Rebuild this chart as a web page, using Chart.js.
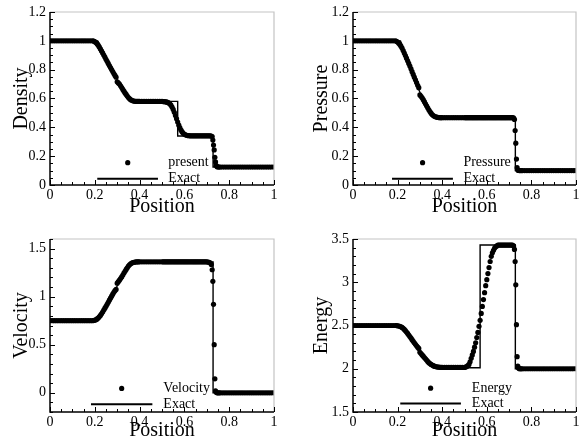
<!DOCTYPE html>
<html>
<head>
<meta charset="utf-8">
<script src="https://cdn.jsdelivr.net/npm/chart.js@4.4.1/dist/chart.umd.min.js"></script>
<style>
  html, body { margin: 0; padding: 0; background: #fff; }
  body { width: 583px; height: 441px; position: relative; overflow: hidden; }
  canvas { position: absolute; }
</style>
</head>
<body>
<canvas id="cDensity" width="291" height="220" style="left:0;top:0"></canvas>
<canvas id="cPressure" width="292" height="220" style="left:291px;top:0"></canvas>
<canvas id="cVelocity" width="291" height="221" style="left:0;top:220px"></canvas>
<canvas id="cEnergy" width="292" height="221" style="left:291px;top:220px"></canvas>
<script>
// sample positions of the "present" solution
const positions = [
  0,0.01,0.02,0.03,0.04,0.05,0.06,0.07,0.08,0.09,
  0.1,0.11,0.12,0.13,0.14,0.15,0.16,0.17,0.18,0.19,
  0.195,0.2,0.205,0.21,0.215,0.22,0.225,0.23,0.235,0.24,
  0.245,0.25,0.255,0.26,0.265,0.27,0.275,0.28,0.285,0.29,
  0.295,0.3,0.305,0.31,0.315,0.32,0.325,0.33,0.335,0.34,
  0.345,0.35,0.355,0.36,0.365,0.37,0.375,0.38,0.385,0.39,
  0.395,0.4,
  0.41,0.42,0.43,0.44,0.45,0.46,0.47,0.48,0.49,0.5,
  0.505,0.51,0.515,0.52,0.525,0.53,0.535,0.54,0.545,0.55,
  0.555,0.56,0.565,0.57,0.575,0.58,0.585,0.59,0.595,0.6,
  0.605,0.61,0.615,0.62,0.625,0.63,0.635,0.64,0.645,0.65,
  0.655,0.66,0.665,0.67,0.675,0.68,0.685,0.69,0.695,0.7,
  0.705,0.71,0.715,0.72,
  0.724,0.727,0.73,0.733,0.736,0.739,0.742,0.746,
  0.75,0.755,0.76,
  0.77,0.78,0.79,0.8,0.81,0.82,0.83,0.84,0.85,0.86,
  0.87,0.88,0.89,0.9,0.91,0.92,0.93,0.94,0.95,0.96,
  0.97,0.98,0.99,1
];

const presentDensity = [
  1,1,1,1,1,1,1,1,1,1,
  1,1,1,1,1,1,1,1,1,1,
  0.998,0.994,0.988,0.98,0.97,0.958,0.944,0.93,0.916,0.901,
  0.887,0.872,0.858,0.843,0.829,0.815,0.801,0.787,0.773,0.76,
  0.748,0.716,0.708,0.7,0.688,0.676,0.663,0.651,0.639,0.628,
  0.617,0.607,0.599,0.592,0.587,0.584,0.582,0.581,0.58,0.58,
  0.58,0.58,
  0.58,0.58,0.58,0.58,0.58,0.58,0.58,0.58,0.58,0.58,
  0.579,0.578,0.577,0.576,0.573,0.569,0.563,0.554,0.541,0.524,
  0.504,0.482,0.459,0.437,0.415,0.396,0.38,0.368,0.359,0.352,
  0.348,0.345,0.343,0.342,0.341,0.341,0.341,0.341,0.341,0.341,
  0.341,0.341,0.341,0.341,0.341,0.341,0.341,0.341,0.341,0.341,
  0.341,0.341,0.341,0.34,
  0.336,0.312,0.277,0.243,0.192,0.16,0.135,0.127,
  0.125,0.125,0.125,
  0.125,0.125,0.125,0.125,0.125,0.125,0.125,0.125,0.125,0.125,
  0.125,0.125,0.125,0.125,0.125,0.125,0.125,0.125,0.125,0.125,
  0.125,0.125,0.125,0.125
];

const presentPressure = [
  1,1,1,1,1,1,1,1,1,1,
  1,1,1,1,1,1,1,1,1,1,
  0.997,0.992,0.984,0.975,0.963,0.95,0.933,0.915,0.898,0.88,
  0.862,0.843,0.825,0.806,0.786,0.767,0.748,0.73,0.711,0.692,
  0.675,0.625,0.615,0.605,0.592,0.578,0.563,0.549,0.535,0.522,
  0.51,0.498,0.489,0.482,0.477,0.473,0.471,0.469,0.468,0.467,
  0.467,0.467,
  0.467,0.467,0.467,0.467,0.467,0.467,0.467,0.467,0.467,0.467,
  0.467,0.467,0.467,0.467,0.467,0.467,0.467,0.467,0.467,0.467,
  0.467,0.467,0.467,0.467,0.467,0.467,0.467,0.467,0.467,0.467,
  0.467,0.467,0.467,0.467,0.467,0.467,0.467,0.467,0.467,0.467,
  0.467,0.467,0.467,0.467,0.467,0.467,0.467,0.467,0.467,0.467,
  0.467,0.467,0.467,0.466,
  0.455,0.378,0.29,0.18,0.12,0.104,0.101,0.1,
  0.1,0.1,0.1,
  0.1,0.1,0.1,0.1,0.1,0.1,0.1,0.1,0.1,0.1,
  0.1,0.1,0.1,0.1,0.1,0.1,0.1,0.1,0.1,0.1,
  0.1,0.1,0.1,0.1
];

const presentVelocity = [
  0.75,0.75,0.75,0.75,0.75,0.75,0.75,0.75,0.75,0.75,
  0.75,0.75,0.75,0.75,0.75,0.75,0.75,0.75,0.75,0.75,
  0.752,0.755,0.76,0.768,0.778,0.79,0.805,0.822,0.84,0.86,
  0.88,0.9,0.921,0.942,0.963,0.984,1.005,1.026,1.045,1.062,
  1.075,1.14,1.156,1.172,1.188,1.205,1.225,1.245,1.264,1.283,
  1.301,1.318,1.331,1.342,1.35,1.355,1.358,1.36,1.361,1.362,
  1.362,1.362,
  1.362,1.362,1.362,1.362,1.362,1.362,1.362,1.362,1.362,1.362,
  1.362,1.362,1.362,1.362,1.362,1.362,1.362,1.362,1.362,1.362,
  1.362,1.362,1.362,1.362,1.362,1.362,1.362,1.362,1.362,1.362,
  1.362,1.362,1.362,1.362,1.362,1.362,1.362,1.362,1.362,1.362,
  1.362,1.362,1.362,1.362,1.362,1.362,1.362,1.362,1.362,1.362,
  1.36,1.358,1.352,1.335,
  1.28,1.16,0.92,0.5,0.145,0.02,0.005,0,
  0,0,0,
  0,0,0,0,0,0,0,0,0,0,
  0,0,0,0,0,0,0,0,0,0,
  0,0,0,0
];

const presentEnergy = [
  2.5,2.5,2.5,2.5,2.5,2.5,2.5,2.5,2.5,2.5,
  2.5,2.5,2.5,2.5,2.5,2.5,2.5,2.5,2.5,2.5,
  2.499,2.497,2.494,2.49,2.485,2.478,2.467,2.455,2.44,2.425,
  2.408,2.39,2.372,2.355,2.336,2.318,2.3,2.283,2.266,2.25,
  2.235,2.19,2.175,2.16,2.145,2.13,2.115,2.1,2.085,2.07,
  2.06,2.05,2.042,2.035,2.03,2.025,2.022,2.02,2.018,2.016,
  2.015,2.015,
  2.015,2.015,2.015,2.015,2.015,2.015,2.015,2.015,2.015,2.015,
  2.02,2.025,2.035,2.05,2.08,2.12,2.16,2.2,2.25,2.3,
  2.36,2.42,2.49,2.56,2.64,2.72,2.8,2.88,2.96,3.03,
  3.1,3.17,3.24,3.3,3.34,3.37,3.395,3.41,3.42,3.43,
  3.43,3.43,3.43,3.43,3.43,3.43,3.43,3.43,3.43,3.43,
  3.43,3.43,3.43,3.42,
  3.38,3.24,2.97,2.51,2.14,2.03,2.01,2,
  2,2,2,
  2,2,2,2,2,2,2,2,2,2,
  2,2,2,2,2,2,2,2,2,2,
  2,2,2,2
];

// exact solution breakpoints
const exactDensityX = [0,0.213,0.22,0.24,0.26,0.28,0.3,0.32,0.34,0.36,0.57,0.57,0.728,0.728,1];
const exactDensityY = [1,1,0.977,0.91,0.846,0.787,0.73,0.677,0.627,0.58,0.58,0.34,0.34,0.125,0.125];
const exactPressureX = [0,0.213,0.22,0.24,0.26,0.28,0.3,0.32,0.34,0.36,0.728,0.728,1];
const exactPressureY = [1,1,0.968,0.876,0.791,0.714,0.643,0.579,0.52,0.467,0.467,0.1,0.1];
const exactVelocityX = [0,0.213,0.22,0.24,0.26,0.28,0.3,0.32,0.34,0.36,0.728,0.728,1];
const exactVelocityY = [0.75,0.75,0.778,0.861,0.944,1.028,1.111,1.194,1.278,1.36,1.36,0,0];
const exactEnergyX = [0,0.213,0.22,0.24,0.26,0.28,0.3,0.32,0.34,0.36,0.57,0.57,0.728,0.728,1];
const exactEnergyY = [2.5,2.5,2.477,2.407,2.338,2.271,2.204,2.138,2.074,2.011,2.011,3.43,3.43,2,2];

// tick labels
const xTicks = [0,0.2,0.4,0.6,0.8,1];
const densityTicks = [0,0.2,0.4,0.6,0.8,1,1.2];
const pressureTicks = [0,0.2,0.4,0.6,0.8,1,1.2];
const velocityTicks = [0,0.5,1,1.5];
const energyTicks = [1.5,2,2.5,3,3.5];

const serif = '"Liberation Serif", "Times New Roman", serif';
Chart.defaults.font.family = serif;
Chart.defaults.color = '#000';

const pts = (xs, ys) => xs.map((x, i) => ({x: x, y: ys[i]}));

// frame, inward ticks and the in-plot legend
const framePlugin = {
  id: 'frame',
  afterDraw(chart, args, o) {
    const {ctx, chartArea: a, scales: {x, y}} = chart;
    ctx.save();
    ctx.strokeStyle = '#c4c4c4';
    ctx.lineWidth = 1.2;
    ctx.beginPath();
    ctx.moveTo(a.left, a.top); ctx.lineTo(a.right, a.top); ctx.lineTo(a.right, a.bottom);
    ctx.stroke();
    ctx.strokeStyle = '#000';
    ctx.lineWidth = 1.5;
    ctx.beginPath();
    ctx.moveTo(a.left, a.top); ctx.lineTo(a.left, a.bottom); ctx.lineTo(a.right, a.bottom);
    ctx.stroke();

    ctx.lineWidth = 1;
    ctx.beginPath();
    const nx = Math.round((x.max - x.min) / o.xMinor);
    for (let i = 0; i <= nx; i++) {
      const v = x.min + i * o.xMinor;
      const major = x.ticks.some(t => Math.abs(t.value - v) < 1e-6);
      const px = Math.round(x.getPixelForValue(v)) + 0.5;
      ctx.moveTo(px, a.bottom); ctx.lineTo(px, a.bottom - (major ? 5 : 3));
    }
    const ny = Math.round((y.max - y.min) / o.yMinor);
    for (let i = 0; i <= ny; i++) {
      const v = y.min + i * o.yMinor;
      const major = y.ticks.some(t => Math.abs(t.value - v) < 1e-6);
      const py = Math.round(y.getPixelForValue(v)) + 0.5;
      ctx.moveTo(a.left, py); ctx.lineTo(a.left + (major ? 5 : 3), py);
    }
    ctx.stroke();

    const lg = o.legend;
    ctx.fillStyle = '#000';
    ctx.beginPath();
    ctx.arc(x.getPixelForValue(lg.dotX), y.getPixelForValue(lg.dotY), 2.6, 0, Math.PI * 2);
    ctx.fill();
    ctx.lineWidth = 2;
    ctx.beginPath();
    ctx.moveTo(x.getPixelForValue(lg.lineX0), y.getPixelForValue(lg.lineY));
    ctx.lineTo(x.getPixelForValue(lg.lineX1), y.getPixelForValue(lg.lineY));
    ctx.stroke();
    ctx.font = '14px ' + serif;
    ctx.textAlign = 'left';
    ctx.textBaseline = 'middle';
    ctx.fillText(lg.label, x.getPixelForValue(lg.textX), y.getPixelForValue(lg.dotY));
    ctx.fillText('Exact', x.getPixelForValue(lg.textX), y.getPixelForValue(lg.lineY));
    ctx.restore();
  }
};

function makePanel(p) {
  new Chart(document.getElementById(p.id), {
    type: 'scatter',
    data: {
      datasets: [
        {
          type: 'line',
          data: pts(p.exactX, p.exactY),
          borderColor: '#000',
          borderWidth: 1.4,
          pointRadius: 0,
          tension: 0,
          fill: false
        },
        {
          data: pts(positions, p.present),
          backgroundColor: '#000',
          borderColor: '#000',
          borderWidth: 0,
          pointRadius: 2.6
        }
      ]
    },
    options: {
      responsive: false,
      animation: false,
      events: [],
      layout: {padding: {left: 0, top: p.padTop, right: p.padRight, bottom: 0}},
      plugins: {
        legend: {display: false},
        tooltip: {enabled: false},
        frame: {xMinor: 0.05, yMinor: p.yMinor, legend: p.legend}
      },
      scales: {
        x: {
          type: 'linear',
          min: 0, max: 1,
          afterBuildTicks: s => { s.ticks = xTicks.map(v => ({value: v})); },
          afterFit: s => { s.height = p.xHeight; s.paddingLeft = 0; s.paddingRight = 0; },
          grid: {display: false, drawTicks: false},
          border: {display: false},
          ticks: {font: {size: 14}, color: '#000', padding: 2, maxRotation: 0, autoSkip: false,
                  callback: v => String(v)},
          title: {display: true, text: 'Position', color: '#000',
                  font: {size: 20, lineHeight: 1}, padding: {top: 0, bottom: p.xTitlePad}}
        },
        y: {
          type: 'linear',
          min: p.yMin, max: p.yMax,
          afterBuildTicks: s => { s.ticks = p.yTicks.map(v => ({value: v})); },
          afterFit: s => { s.width = p.yWidth; s.paddingTop = 0; s.paddingBottom = 0; },
          grid: {display: false, drawTicks: false},
          border: {display: false},
          ticks: {font: {size: 14}, color: '#000', padding: 4, autoSkip: false,
                  callback: v => String(v)},
          title: {display: true, text: p.title, color: '#000',
                  font: {size: 20, lineHeight: 1}, padding: {top: p.yTitlePad, bottom: 0}}
        }
      }
    },
    plugins: [framePlugin]
  });
}

makePanel({
  id: 'cDensity', title: 'Density', present: presentDensity,
  exactX: exactDensityX, exactY: exactDensityY,
  yMin: 0, yMax: 1.2, yTicks: densityTicks, yMinor: 0.05,
  padTop: 12, padRight: 17, yWidth: 50, xHeight: 35, yTitlePad: 12, xTitlePad: 3,
  legend: {label: 'present', dotX: 0.347, dotY: 0.155, textX: 0.528, lineX0: 0.211, lineX1: 0.482, lineY: 0.044}
});
makePanel({
  id: 'cPressure', title: 'Pressure', present: presentPressure,
  exactX: exactPressureX, exactY: exactPressureY,
  yMin: 0, yMax: 1.2, yTicks: pressureTicks, yMinor: 0.05,
  padTop: 12, padRight: 7, yWidth: 62, xHeight: 35, yTitlePad: 20.7, xTitlePad: 3,
  legend: {label: 'Pressure', dotX: 0.312, dotY: 0.155, textX: 0.495, lineX0: 0.175, lineX1: 0.448, lineY: 0.044}
});
makePanel({
  id: 'cVelocity', title: 'Velocity', present: presentVelocity,
  exactX: exactVelocityX, exactY: exactVelocityY,
  yMin: -0.2, yMax: 1.6, yTicks: velocityTicks, yMinor: 0.1,
  padTop: 19, padRight: 17, yWidth: 50, xHeight: 29, yTitlePad: 12, xTitlePad: 0,
  legend: {label: 'Velocity', dotX: 0.32, dotY: 0.045, textX: 0.506, lineX0: 0.183, lineX1: 0.457, lineY: -0.12}
});
makePanel({
  id: 'cEnergy', title: 'Energy', present: presentEnergy,
  exactX: exactEnergyX, exactY: exactEnergyY,
  yMin: 1.5, yMax: 3.5, yTicks: energyTicks, yMinor: 0.1,
  padTop: 19, padRight: 7, yWidth: 62, xHeight: 29, yTitlePad: 20.7, xTitlePad: 0,
  legend: {label: 'Energy', dotX: 0.348, dotY: 1.776, textX: 0.533, lineX0: 0.212, lineX1: 0.484, lineY: 1.597}
});
</script>
</body>
</html>
